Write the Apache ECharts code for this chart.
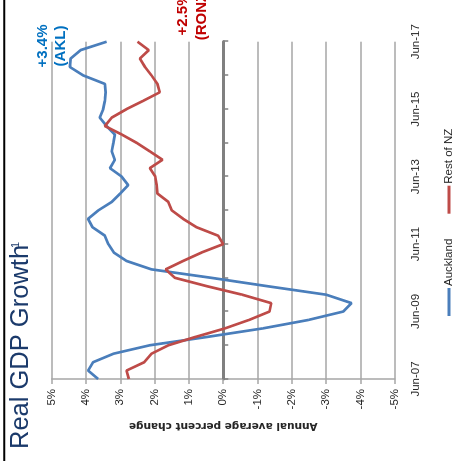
<!DOCTYPE html>
<html>
<head>
<meta charset="utf-8">
<script src="https://cdn.jsdelivr.net/npm/echarts@6/dist/echarts.min.js"></script>
<style>
  html, body { margin: 0; padding: 0; background: #fff; overflow: hidden; }
  body { width: 474px; height: 461px; position: relative; }
  /* The chart is laid out upright (461 x 474) and turned a quarter turn
     counter-clockwise so time runs bottom-to-top on the page. */
  #chart {
    position: absolute; left: 0; top: 0;
    width: 461px; height: 474px;
    transform-origin: 0 0;
    transform: translate(0, 461px) rotate(-90deg);
  }
</style>
</head>
<body>
<div id="chart"></div>
<script>
// Quarterly periods, June 2007 to June 2017
const quarters = [
  'Jun-07','Sep-07','Dec-07','Mar-08','Jun-08','Sep-08','Dec-08','Mar-09',
  'Jun-09','Sep-09','Dec-09','Mar-10','Jun-10','Sep-10','Dec-10','Mar-11',
  'Jun-11','Sep-11','Dec-11','Mar-12','Jun-12','Sep-12','Dec-12','Mar-13',
  'Jun-13','Sep-13','Dec-13','Mar-14','Jun-14','Sep-14','Dec-14','Mar-15',
  'Jun-15','Sep-15','Dec-15','Mar-16','Jun-16','Sep-16','Dec-16','Mar-17',
  'Jun-17'
];

// Annual average real GDP growth, %
const auckland = [
  3.65, 3.94, 3.79, 3.20, 2.14, 0.45, -1.15, -2.48,
  -3.50, -3.74, -3.00, -1.30, 0.35, 2.09, 2.82, 3.19,
  3.35, 3.45, 3.81, 3.94, 3.64, 3.25, 3.00, 2.77,
  2.96, 3.30, 3.16, 3.25, 3.20, 3.16, 3.40, 3.60,
  3.50, 3.45, 3.43, 3.45, 4.08, 4.47, 4.45, 4.16,
  3.40
];
const restOfNZ = [
  2.75, 2.82, 2.30, 2.09, 1.60, 0.80, -0.05, -0.75,
  -1.35, -1.40, -0.55, 0.47, 1.41, 1.68, 1.17, 0.63,
  0.00, 0.15, 0.78, 1.17, 1.50, 1.60, 1.92, 1.94,
  1.98, 2.14, 1.77, 2.14, 2.52, 2.96, 3.45, 3.25,
  2.82, 2.33, 1.85, 1.92, 2.09, 2.28, 2.43, 2.17,
  2.50
];

const seriesNames = ['Auckland', 'Rest of NZ'];
const latestLabels = [['+3.4%', '(AKL)'], ['+2.5%', '(RONZ)']];
const valueTicks = { min: -5, max: 5, step: 1 };

const BLUE = '#4a7ebb';
const RED = '#be4b48';
const GRID = '#a6a6a6';
const TEXT = '#262626';
const LABEL_FONT = 'Liberation Sans, Arial, sans-serif';

const chart = echarts.init(document.getElementById('chart'), null, { renderer: 'canvas' });

function txt(x, y, text, font, fill, align) {
  return {
    type: 'text', x: x, y: y, silent: true,
    style: {
      text: text, font: font, fill: fill,
      align: align || 'left', textAlign: align || 'left',
      verticalAlign: 'middle', textVerticalAlign: 'middle'
    }
  };
}

chart.setOption({
  animation: false,
  backgroundColor: '#ffffff',
  grid: { left: 82, right: 41.7, top: 51.7, bottom: 79.3, containLabel: false },
  legend: {
    data: seriesNames,
    left: 140, top: 438,
    icon: 'rect', itemWidth: 28, itemHeight: 3, itemGap: 25,
    textStyle: { fontFamily: LABEL_FONT, fontSize: 11.5, color: TEXT, padding: [0, 0, 0, -3] }
  },
  xAxis: [
    {
      // date labels along the lower edge
      type: 'category', data: quarters, boundaryGap: false, position: 'bottom',
      axisLine: { show: false, onZero: false },
      axisTick: { show: false },
      splitLine: { show: false },
      axisLabel: {
        interval: function (i) { return i % 8 === 0; },
        margin: 15, fontFamily: LABEL_FONT, fontSize: 11.5, color: TEXT
      }
    },
    {
      // zero line with yearly tick marks
      type: 'category', data: quarters, boundaryGap: false, position: 'bottom',
      axisLine: { show: true, onZero: true, lineStyle: { color: '#808080', width: 3 } },
      axisTick: {
        show: true, inside: false, length: 5,
        interval: function (i) { return i % 4 === 0; },
        lineStyle: { color: '#808080', width: 1.5 }
      },
      axisLabel: { show: false },
      splitLine: { show: false }
    }
  ],
  yAxis: {
    type: 'value', min: valueTicks.min, max: valueTicks.max, interval: valueTicks.step,
    position: 'left',
    name: 'Annual average percent change',
    nameLocation: 'middle', nameGap: 40, nameRotate: 90,
    nameTextStyle: { fontFamily: 'DejaVu Sans, Verdana, sans-serif', fontWeight: 'bold', fontSize: 10.5, color: TEXT },
    axisLine: { show: true, lineStyle: { color: GRID, width: 1.5 } },
    axisTick: { show: true, inside: false, length: 5, lineStyle: { color: GRID, width: 1.5 } },
    splitLine: { show: true, lineStyle: { color: GRID, width: 1.5 } },
    axisLabel: {
      formatter: function (v) { return v + '%'; },
      margin: 10, fontFamily: LABEL_FONT, fontSize: 11.5, color: TEXT
    }
  },
  series: [
    {
      name: seriesNames[0], type: 'line', data: auckland, xAxisIndex: 0,
      symbol: 'none', smooth: false, color: BLUE,
      lineStyle: { color: BLUE, width: 2.7 }, z: 3
    },
    {
      name: seriesNames[1], type: 'line', data: restOfNZ, xAxisIndex: 0,
      symbol: 'none', smooth: false, color: RED,
      lineStyle: { color: RED, width: 2.7 }, z: 4
    }
  ],
  graphic: {
    elements: [
      {
        type: 'line', silent: true,
        shape: { x1: 0, y1: 4.3, x2: 461, y2: 4.3 },
        style: { stroke: '#000000', lineWidth: 2 }
      },
      txt(12, 20.5, 'Real GDP Growth', '25.5px Liberation Sans, Arial, sans-serif', '#1b3a6b'),
      txt(213, 15.5, '1', '11px Liberation Sans, Arial, sans-serif', '#1b3a6b'),
      txt(415, 42.5, latestLabels[0][0], 'bold 15px Liberation Sans, Arial, sans-serif', '#0070c0', 'center'),
      txt(415, 61, latestLabels[0][1], 'bold 15px Liberation Sans, Arial, sans-serif', '#0070c0', 'center'),
      txt(447, 182.5, latestLabels[1][0], 'bold 15px Liberation Sans, Arial, sans-serif', '#c00000', 'center'),
      txt(447, 201.5, latestLabels[1][1], 'bold 15px Liberation Sans, Arial, sans-serif', '#c00000', 'center')
    ]
  }
});
</script>
</body>
</html>
